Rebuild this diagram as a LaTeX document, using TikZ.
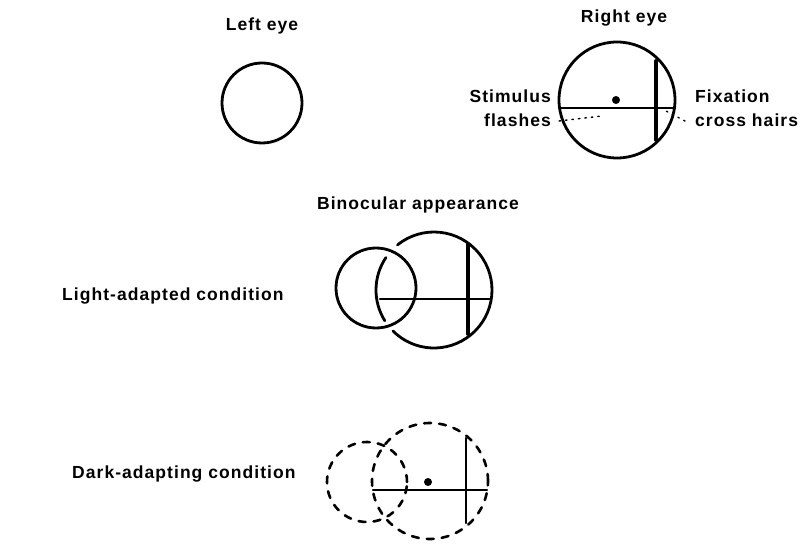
\documentclass[tikz,border=0pt]{standalone}
\usepackage{fontspec}
\setmainfont{Liberation Sans}[LetterSpace=6]
\begin{document}
\begin{tikzpicture}[x=1pt, y=1pt, font=\bfseries\fontsize{17.5}{24}\selectfont, line join=round, line cap=round,
  eye/.style={line width=2.8pt},
  hair/.style={line width=2.4pt},
  thickhair/.style={line width=3.8pt},
  faint/.style={line width=2.6pt, dash pattern=on 7pt off 8pt},
  leader/.style={line width=1.4pt, dash pattern=on 1.5pt off 5pt},
  lbl/.style={inner sep=0pt}]
	\useasboundingbox (0,0) rectangle (808,-545);
	% top row: each eye alone
	\node[lbl, anchor=base] (lefteye) at (262,-31) {Left eye};
	\node[lbl, anchor=base] (righteye) at (624,-23) {Right eye};
	\draw[eye] (262,-103) circle (40);
	\draw[eye] (617,-100) circle (58);
	\draw[hair] (559,-108) -- (675,-108);
	\draw[thickhair] (656,-61) -- (656,-140);
	\fill (616,-100) circle (4);
	\node[lbl, align=right, anchor=base east] (stim) at (551,-127) {Stimulus\\flashes};
	\node[lbl, align=left, anchor=base west] (fix) at (695,-127) {Fixation\\cross hairs};
	\coordinate (flashend) at (602,-116);
	\coordinate (hairend) at (666,-111);
	\draw[leader] (stim.base east) ++(8,6) -- (flashend);
	\draw[leader] (fix.base west) ++(-10,6) -- (hairend);
	% binocular, light adapted
	\node[lbl, anchor=base] (binoc) at (418,-210) {Binocular appearance};
	\node[lbl, anchor=base west] (light) at (62,-300) {Light-adapted condition};
	\draw[eye] (376,-288) circle (40);
	\draw[eye] ([shift={(129:58)}]434,-290) arc[start angle=129, end angle=-135, radius=58];
	\draw[eye] ([shift={(146:58)}]434,-290) arc[start angle=146, end angle=212, radius=58];
	\draw[hair] (380,-299) -- (490,-299);
	\draw[thickhair] (468,-244) -- (468,-334);
	% binocular, dark adapting
	\node[lbl, anchor=base west] (dark) at (72,-478) {Dark-adapting condition};
	\draw[faint] (367,-482) circle (40);
	\draw[faint] (430,-481) circle (58);
	\draw[hair] (373,-490) -- (487,-490);
	\draw[hair] (466,-438) -- (466,-523);
	\fill (428,-482) circle (4);
\end{tikzpicture}
\end{document}
